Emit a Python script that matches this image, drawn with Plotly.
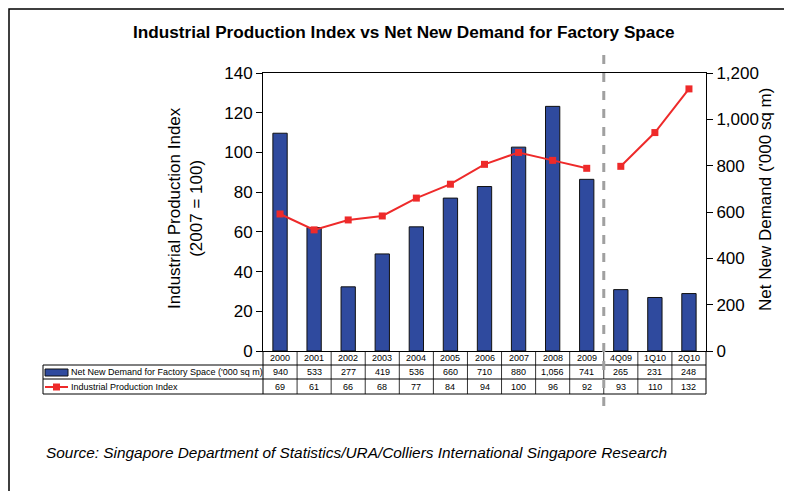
import plotly.graph_objects as go

categories = ["2000", "2001", "2002", "2003", "2004", "2005", "2006", "2007", "2008", "2009", "4Q09", "1Q10", "2Q10"]
demand = [940, 533, 277, 419, 536, 660, 710, 880, 1056, 741, 265, 231, 248]
demand_labels = ["940", "533", "277", "419", "536", "660", "710", "880", "1,056", "741", "265", "231", "248"]
ipi = [69, 61, 66, 68, 77, 84, 94, 100, 96, 92, 93, 110, 132]
n_annual = 10

BAR = "#2F4A9E"
RED = "#EE2A2A"
FONT = "Liberation Sans, Arial, sans-serif"

OFF = 8  # page body margin
# plot area in window pixels
L, R, T, B = 263, 706, 73, 351
PW, PH = R - L, B - T


def px(x):
    return (x - L) / PW


def py(y):
    return (B - y) / PH


idx = list(range(len(categories)))

fig = go.Figure()
# bars on the right-hand axis (yaxis, side right); line on the left-hand axis (yaxis2, overlaying) so it draws on top
fig.add_trace(go.Bar(x=idx, y=demand, yaxis="y", marker=dict(color=BAR, line=dict(color="#111111", width=1)),
                     width=0.42, name="Net New Demand for Factory Space ('000 sq m)", showlegend=False))
fig.add_trace(go.Scatter(x=idx[:n_annual], y=ipi[:n_annual], mode="lines+markers", yaxis="y2",
                         line=dict(color=RED, width=2), marker=dict(symbol="square", size=7, color=RED),
                         showlegend=False))
fig.add_trace(go.Scatter(x=idx[n_annual:], y=ipi[n_annual:], mode="lines+markers", yaxis="y2",
                         line=dict(color=RED, width=2), marker=dict(symbol="square", size=7, color=RED),
                         showlegend=False))

shapes = []
annotations = []
r0, r1, r2, r3 = py(351), py(365), py(379), py(394)
leftx = px(43)
line_style = dict(color="black", width=1)
for yy in [r1, r2, r3]:
    shapes.append(dict(type="line", xref="paper", yref="paper", x0=leftx, x1=1, y0=yy, y1=yy, line=line_style))
shapes.append(dict(type="line", xref="paper", yref="paper", x0=leftx, x1=leftx, y0=r1, y1=r3, line=line_style))
shapes.append(dict(type="line", xref="paper", yref="paper", x0=0, x1=0, y0=r0, y1=r3, line=line_style))
shapes.append(dict(type="line", xref="paper", yref="paper", x0=1, x1=1, y0=r0, y1=r3, line=line_style))
for i in range(1, len(categories)):
    shapes.append(dict(type="line", xref="x", yref="paper", x0=i - 0.5, x1=i - 0.5, y0=r0, y1=r3,
                       line=dict(color="black", width=0.8)))
# dashed separator
shapes.append(dict(type="line", xref="x", yref="paper", x0=n_annual - 0.5, x1=n_annual - 0.5, y0=py(55), y1=py(412),
                   line=dict(color="#A0A0A0", width=3, dash="dash"), layer="above"))
# legend icons in table
shapes.append(dict(type="rect", xref="paper", yref="paper", x0=px(45), x1=px(68), y0=py(369), y1=py(376),
                   fillcolor=BAR, line=dict(color="#111111", width=1)))
shapes.append(dict(type="line", xref="paper", yref="paper", x0=px(45), x1=px(68), y0=py(387), y1=py(387),
                   line=dict(color=RED, width=2)))
shapes.append(dict(type="rect", xref="paper", yref="paper", x0=px(53), x1=px(60), y0=py(383.5), y1=py(390.5),
                   fillcolor=RED, line=dict(color=RED, width=0)))

tfont = dict(family=FONT, size=9, color="black")
for i, c in enumerate(categories):
    for yy, txt in [((r0 + r1) / 2, c), ((r1 + r2) / 2, demand_labels[i]), ((r2 + r3) / 2, str(ipi[i]))]:
        annotations.append(dict(x=i, y=yy, xref="x", yref="paper", text=txt, showarrow=False, font=tfont,
                                xanchor="center", yanchor="middle"))
annotations.append(dict(x=px(69), y=(r1 + r2) / 2, xref="paper", yref="paper", xanchor="left", yanchor="middle",
                        text="Net New Demand for Factory Space ('000 sq m)", showarrow=False, font=tfont))
annotations.append(dict(x=px(69), y=(r2 + r3) / 2, xref="paper", yref="paper", xanchor="left", yanchor="middle",
                        text="Industrial Production Index", showarrow=False, font=tfont))
# axis titles
afont = dict(family=FONT, size=17, color="black")
annotations.append(dict(x=px(185), y=py(208), xref="paper", yref="paper", textangle=-90, xanchor="center",
                        yanchor="middle", text="Industrial Production Index<br>(2007 = 100)", showarrow=False, font=afont))
annotations.append(dict(x=px(765), y=py(200), xref="paper", yref="paper", textangle=-90, xanchor="center",
                        yanchor="middle", text="Net New Demand ('000 sq m)", showarrow=False, font=afont))
# title
annotations.append(dict(x=px(404), y=py(32), xref="paper", yref="paper", xanchor="center", yanchor="middle",
                        text="<b>Industrial Production Index vs Net New Demand for Factory Space</b>",
                        showarrow=False, font=dict(family=FONT, size=17.2, color="black")))
# source
annotations.append(dict(x=px(44), y=py(452), xref="paper", yref="paper", xanchor="left", yanchor="middle",
                        text="<i>Source: Singapore Department of Statistics/URA/Colliers International Singapore Research</i>",
                        showarrow=False, font=dict(family=FONT, size=15.4, color="black")))
# outer frame (left and top edges visible)
shapes.append(dict(type="rect", xref="paper", yref="paper", x0=px(9), x1=px(820),
                   y0=py(520), y1=py(9), line=dict(color="black", width=1.5)))

fig.update_layout(
    width=792, height=491,
    margin=dict(l=L - OFF, r=792 - (R - OFF), t=T - OFF, b=491 - (B - OFF)),
    paper_bgcolor="white", plot_bgcolor="white",
    xaxis=dict(showticklabels=False, ticks="", showgrid=False, zeroline=False, automargin=False,
               showline=True, linecolor="black", linewidth=1, mirror=True, range=[-0.5, len(categories) - 0.5]),
    yaxis=dict(range=[0, 1200], dtick=200, side="right", showgrid=False, zeroline=False,
               showline=True, linecolor="black", linewidth=1, ticks="outside", ticklen=6, tickcolor="black",
               tickformat=",", tickfont=afont, automargin=False),
    yaxis2=dict(range=[0, 140], dtick=20, overlaying="y", side="left", showgrid=False, zeroline=False,
                showline=True, linecolor="black", linewidth=1, ticks="outside", ticklen=6, tickcolor="black",
                tickfont=afont, automargin=False),
    shapes=shapes, annotations=annotations,
)

fig.write_html("out.html")
